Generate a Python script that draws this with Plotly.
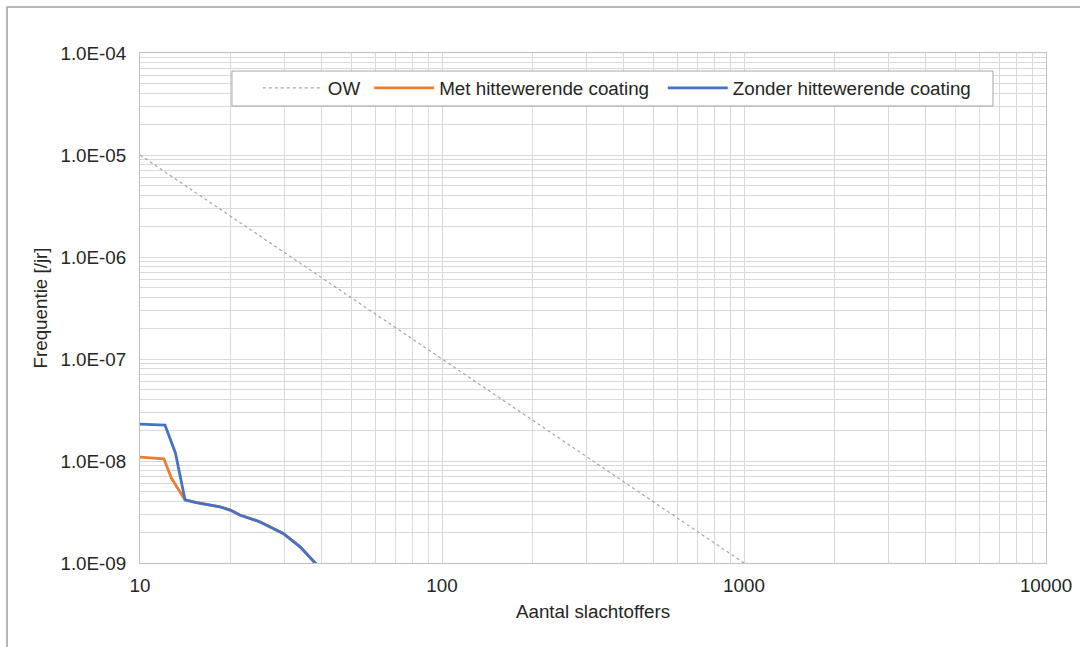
import plotly.graph_objects as go

# Data
ow_x = [10, 100, 1000]
ow_y = [1e-5, 1e-7, 1e-9]

met_x = [10, 12.0, 12.7, 14.1, 15.4, 18.4, 19.9, 21.4, 24.9, 29.8, 33.9, 37.8, 40.0]
met_y = [1.09e-8, 1.05e-8, 6.8e-9, 4.15e-9, 3.9e-9, 3.56e-9, 3.3e-9, 2.95e-9, 2.54e-9, 1.95e-9, 1.44e-9, 1.0e-9, 8.5e-10]

zonder_x = [10, 12.1, 13.1, 14.1, 15.4, 18.4, 19.9, 21.4, 24.9, 29.8, 33.9, 37.8, 40.0]
zonder_y = [2.3e-8, 2.25e-8, 1.2e-8, 4.15e-9, 3.9e-9, 3.56e-9, 3.3e-9, 2.95e-9, 2.54e-9, 1.95e-9, 1.44e-9, 1.0e-9, 8.5e-10]

x_ticks = [10, 100, 1000, 10000]
x_ticklabels = ["10", "100", "1000", "10000"]
y_ticks = [1e-9, 1e-8, 1e-7, 1e-6, 1e-5, 1e-4]
y_ticklabels = ["1.0E-09", "1.0E-08", "1.0E-07", "1.0E-06", "1.0E-05", "1.0E-04"]

x_minor = [m * d for d in [10, 100, 1000] for m in range(2, 10)]
y_minor = [m * d for d in [1e-9, 1e-8, 1e-7, 1e-6, 1e-5] for m in range(2, 10)]

FONT = "Liberation Sans, Arial, sans-serif"
TXT = "#262626"
GRID = "#d9d9d9"
FS = 18.8

fig = go.Figure()
fig.add_trace(go.Scatter(x=ow_x, y=ow_y, mode="lines", name="OW", legend="legend",
                         line=dict(color="#a5a5a5", width=1.2, dash="dot")))
fig.add_trace(go.Scatter(x=met_x, y=met_y, mode="lines", name="Met hittewerende coating",
                         legend="legend2", line=dict(color="#ED7D31", width=2.8)))
fig.add_trace(go.Scatter(x=zonder_x, y=zonder_y, mode="lines", name="Zonder hittewerende coating",
                         legend="legend3", line=dict(color="#4472C4", width=2.8)))

leg_common = dict(orientation="h", yanchor="middle", xanchor="left", y=0.931,
                  bgcolor="rgba(0,0,0,0)", borderwidth=0,
                  font=dict(size=FS, color=TXT, family=FONT), itemwidth=60)

fig.update_layout(
    width=1080, height=647,
    margin=dict(l=140, r=34, t=53, b=84),
    paper_bgcolor="white", plot_bgcolor="white",
    font=dict(family=FONT, size=FS, color=TXT),
    showlegend=True,
    legend=dict(x=0.130, **leg_common),
    legend2=dict(x=0.253, **leg_common),
    legend3=dict(x=0.577, **leg_common),
    shapes=[
        dict(type="rect", xref="paper", yref="paper",
             x0=-0.1468, x1=1.06, y0=-0.2, y1=1.0902,
             line=dict(color="#a0a0a0", width=1.5), layer="below"),
        dict(type="rect", xref="paper", yref="paper",
             x0=0.1015, x1=0.9415, y0=0.8961, y1=0.9647,
             line=dict(color="#a6a6a6", width=1), fillcolor="white", layer="above"),
    ],
)

fig.update_xaxes(
    type="log", range=[1, 4], automargin=False,
    tickmode="array", tickvals=x_ticks, ticktext=x_ticklabels,
    showgrid=True, gridcolor=GRID, gridwidth=1,
    minor=dict(tickmode="array", tickvals=x_minor, showgrid=True, gridcolor=GRID, gridwidth=1),
    showline=True, linecolor="#bfbfbf", linewidth=1, mirror=True,
    ticks="", ticklabelstandoff=5, tickfont=dict(size=FS),
    title=dict(text="Aantal slachtoffers", font=dict(size=FS, color=TXT), standoff=10),
    zeroline=False,
)
fig.update_yaxes(
    type="log", range=[-9, -4], automargin=False,
    tickmode="array", tickvals=y_ticks, ticktext=y_ticklabels,
    showgrid=True, gridcolor=GRID, gridwidth=1,
    minor=dict(tickmode="array", tickvals=y_minor, showgrid=True, gridcolor=GRID, gridwidth=1),
    showline=True, linecolor="#bfbfbf", linewidth=1, mirror=True,
    ticks="", ticklabelstandoff=9, tickfont=dict(size=FS),
    title=dict(text="Frequentie [/jr]", font=dict(size=FS, color=TXT), standoff=7),
    zeroline=False,
)

fig.write_html("out.html", config={"displayModeBar": False},
               post_script="document.body.style.margin='0';")
